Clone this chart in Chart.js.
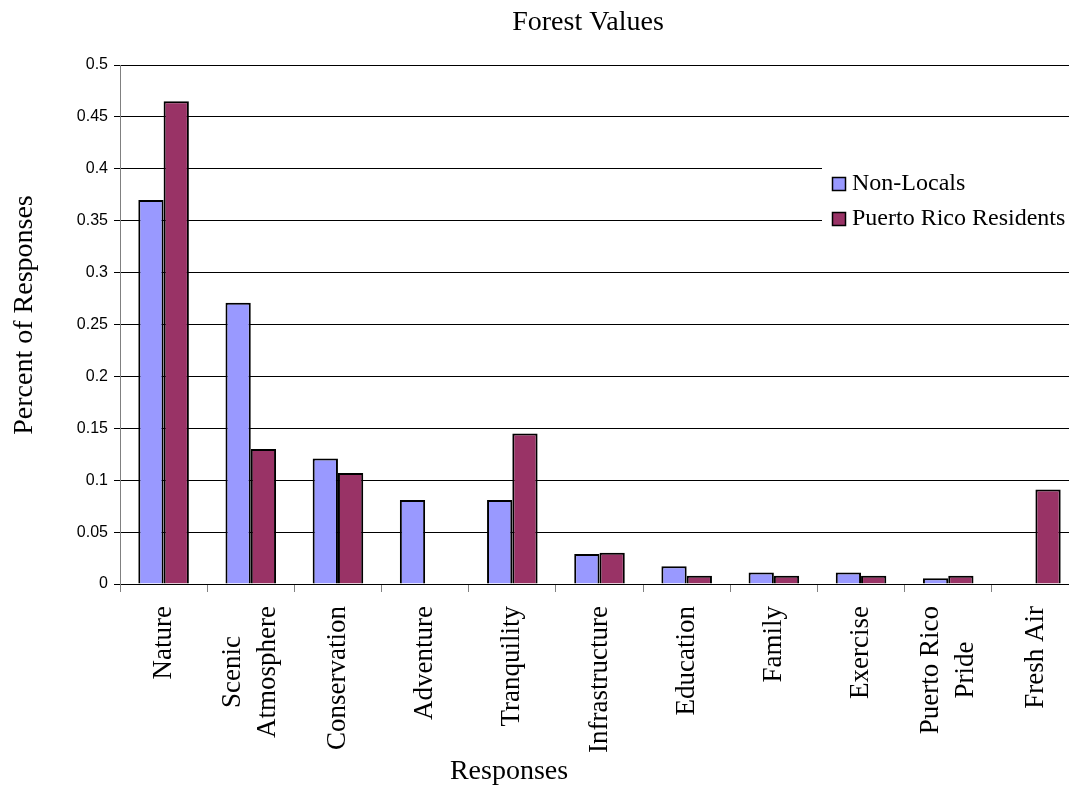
<!DOCTYPE html>
<html lang="en">
<head>
<meta charset="utf-8">
<title>Forest Values</title>
<script src="https://cdn.jsdelivr.net/npm/chart.js"></script>
<style>
  html, body { margin: 0; padding: 0; background: #fff; overflow: hidden; }
  #wrap { width: 1080px; height: 787px; }
</style>
</head>
<body>
<div id="wrap"><canvas id="myChart" width="1080" height="787"></canvas></div>
<script>
    // survey answers, share of responses per group
    var categories = ['Nature', ['Scenic', 'Atmosphere'], 'Conservation', 'Adventure', 'Tranquility',
        'Infrastructure', 'Education', 'Family', 'Exercise', ['Puerto Rico', 'Pride'], 'Fresh Air'];
    var non_locals = [0.370, 0.271, 0.121, 0.081, 0.081, 0.029, 0.017, 0.011, 0.011, 0.0055, 0];
    var pr_residents = [0.465, 0.130, 0.107, 0, 0.145, 0.030, 0.008, 0.008, 0.008, 0.008, 0.091];
    var series_names = ['Non-Locals', 'Puerto Rico Residents'];
    var series_colors = ['#9999FF', '#993366'];

    var serif = "'Liberation Serif', 'Times New Roman', serif";

    // titles, rotated category names and the legend box
    let textPlugin = {
        id: 'chartText',
        afterDraw(chart) {
            let ctx = chart.ctx;
            let x = chart.scales.x;
            ctx.save();
            ctx.fillStyle = '#000';

            ctx.font = '28px ' + serif;
            ctx.textAlign = 'center';
            ctx.textBaseline = 'alphabetic';
            ctx.fillText('Forest Values', 588, 30);
            ctx.fillText('Responses', 509, 779);

            ctx.save();
            ctx.translate(32, 315);
            ctx.rotate(-Math.PI / 2);
            ctx.fillText('Percent of Responses', 0, 0);
            ctx.restore();

            // category names read bottom to top, ending just under the axis
            ctx.font = '27px ' + serif;
            ctx.textBaseline = 'middle';
            categories.forEach(function (label, i) {
                let lines = Array.isArray(label) ? label : [label];
                let w = Math.max.apply(null, lines.map(function (l) { return ctx.measureText(l).width; }));
                let cx = x.getPixelForValue(i);
                ctx.save();
                ctx.translate(cx, 606);
                ctx.rotate(-Math.PI / 2);
                lines.forEach(function (l, j) {
                    ctx.fillText(l, -w / 2, (j - (lines.length - 1) / 2) * 35);
                });
                ctx.restore();
            });

            // legend
            ctx.fillStyle = '#fff';
            ctx.fillRect(822, 150, 260, 100);
            ctx.font = '24px ' + serif;
            ctx.textAlign = 'left';
            series_names.forEach(function (name, i) {
                let y = 184 + i * 35;
                ctx.fillStyle = series_colors[i];
                ctx.fillRect(832, y - 7, 14, 14);
                ctx.strokeStyle = '#000';
                ctx.lineWidth = 1.5;
                ctx.strokeRect(832.5, y - 6.5, 13, 13);
                ctx.fillStyle = '#000';
                ctx.fillText(name, 852, y);
            });
            ctx.restore();
        }
    };

    let ctx = document.getElementById('myChart').getContext('2d');
    let myChart = new Chart(ctx, {
        type: 'bar',
        data: {
            labels: categories,
            datasets: [
                {
                label: series_names[0],
                data: non_locals,
                backgroundColor: series_colors[0],
                borderColor: '#000',
                borderWidth: 2
                },
                {
                label: series_names[1],
                data: pr_residents,
                backgroundColor: series_colors[1],
                borderColor: '#000',
                borderWidth: 2
                }
            ]
        },
        options: {
            responsive: false,
            animation: false,
            devicePixelRatio: 1,
            layout: { padding: { top: 65, right: 1, left: 0, bottom: 0 } },
            datasets: { bar: { categoryPercentage: 0.58, barPercentage: 1 } },
            plugins: {
                legend: { display: false },
                title: { display: false },
                tooltip: { enabled: false }
            },
            scales: {
                x: {
                    ticks: { display: false },
                    grid: { drawOnChartArea: false, color: '#808080', tickLength: 8 },
                    border: { color: '#000' },
                    afterFit(scale) { scale.height = 203; }
                },
                y: {
                    min: 0,
                    max: 0.5,
                    ticks: {
                        stepSize: 0.05,
                        padding: 6,
                        color: '#000',
                        font: { family: "'Liberation Sans', Arial, sans-serif", size: 16 },
                        callback: function (v) { return String(+v.toFixed(2)); }
                    },
                    grid: { color: '#000', tickLength: 6 },
                    border: { color: '#808080' },
                    afterFit(scale) { scale.width = 120; }
                }
            }
        },
        plugins: [textPlugin]
    });
</script>
</body>
</html>
